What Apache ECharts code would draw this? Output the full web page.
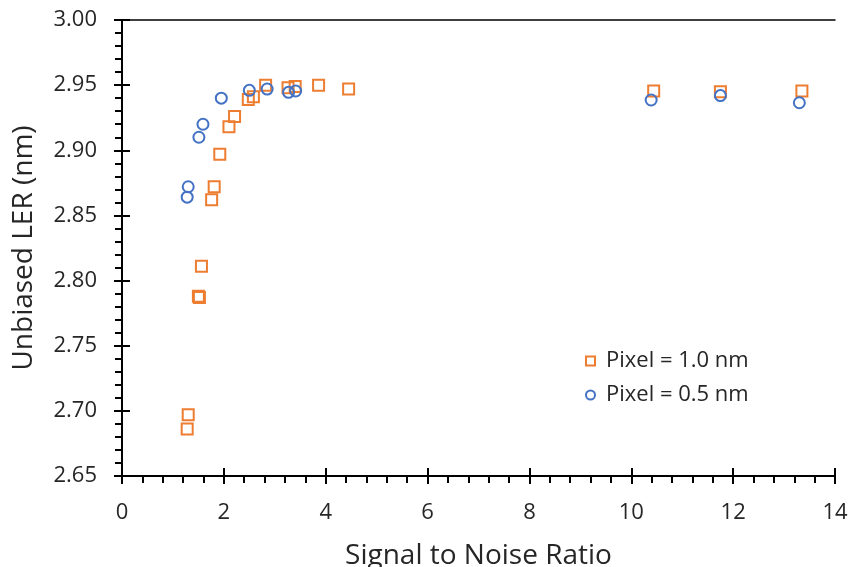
<!DOCTYPE html>
<html>
<head>
<meta charset="utf-8">
<style>
  html, body { margin: 0; padding: 0; background: #fff; }
  #chart { width: 852px; height: 567px; }
</style>
<script src="https://cdn.jsdelivr.net/npm/echarts@6/dist/echarts.min.js"></script>
</head>
<body>
<div id="chart"></div>
<script>
// Pixel = 1.0 nm series
const snrPixel10 = [1.28, 1.30, 1.50, 1.52, 1.56, 1.76, 1.81, 1.92, 2.10, 2.21, 2.48, 2.58, 2.82, 3.26, 3.40, 3.86, 4.45, 10.44, 11.75, 13.35];
const lerPixel10 = [2.686, 2.697, 2.788, 2.787, 2.811, 2.862, 2.872, 2.897, 2.918, 2.926, 2.939, 2.941, 2.950, 2.948, 2.949, 2.950, 2.947, 2.9455, 2.945, 2.9455];

// Pixel = 0.5 nm series
const snrPixel05 = [1.28, 1.30, 1.51, 1.59, 1.95, 2.50, 2.85, 3.27, 3.41, 10.39, 11.75, 13.30];
const lerPixel05 = [2.864, 2.872, 2.910, 2.920, 2.940, 2.946, 2.947, 2.9445, 2.9455, 2.9386, 2.942, 2.9365];

const seriesNames = ['Pixel = 1.0 nm', 'Pixel = 0.5 nm'];
const xAxisTitle = 'Signal to Noise Ratio';
const yAxisTitle = 'Unbiased LER (nm)';

const ORANGE = '#ED7D31';
const BLUE = '#4472C4';
const INK = '#262626';
const FONT = '"Open Sans", "Noto Sans", sans-serif';

const zip = (xs, ys) => xs.map((x, i) => [x, ys[i]]);

const chart = echarts.init(document.getElementById('chart'), null, { renderer: 'canvas' });

const xRange = { min: 0, max: 14, interval: 2 };
const yRange = { min: 2.65, max: 3.00, interval: 0.05 };

// Main axes carry labels, outward ticks and minor ticks; twin axes add the inward half of
// each major tick so they cross the axis line; the frame axes close the box on top/right.
const option = {
  animation: false,
  backgroundColor: '#ffffff',
  grid: { left: 122, right: 17, top: 20, bottom: 91, containLabel: false, outerBoundsMode: 'none' },
  legend: {
    orient: 'vertical',
    left: 580,
    top: 345,
    padding: 5,
    itemWidth: 9,
    itemHeight: 9,
    itemGap: 12,
    textStyle: { fontFamily: FONT, fontSize: 22, color: INK, lineHeight: 22, padding: [0, 0, 0, 6] },
    data: [
      { name: seriesNames[0], icon: 'rect',
        itemStyle: { color: 'rgba(255,255,255,0)', borderColor: ORANGE, borderWidth: 2 } },
      { name: seriesNames[1], icon: 'circle',
        itemStyle: { color: 'rgba(255,255,255,0)', borderColor: BLUE, borderWidth: 2 } }
    ]
  },
  xAxis: [
    {
      type: 'value', position: 'bottom', ...xRange,
      name: xAxisTitle, nameLocation: 'middle', nameGap: 66,
      nameTextStyle: { fontFamily: FONT, fontSize: 28, color: INK },
      axisLine: { show: true, lineStyle: { color: '#000', width: 2 } },
      axisTick: { show: true, inside: false, length: 8, lineStyle: { color: '#000', width: 2 } },
      minorTick: { show: true, splitNumber: 5, length: 7, lineStyle: { color: '#000', width: 2 } },
      axisLabel: { margin: 26, fontFamily: FONT, fontSize: 22, color: INK },
      splitLine: { show: false }, minorSplitLine: { show: false }
    },
    {
      type: 'value', position: 'bottom', ...xRange,
      axisLine: { show: false },
      axisTick: { show: true, inside: true, length: 8, lineStyle: { color: '#000', width: 2 } },
      axisLabel: { show: false }, splitLine: { show: false }
    },
    {
      type: 'value', position: 'top', ...xRange,
      axisLine: { show: true, lineStyle: { color: '#000', width: 1.5 } },
      axisTick: { show: false }, axisLabel: { show: false }, splitLine: { show: false }
    }
  ],
  yAxis: [
    {
      type: 'value', position: 'left', ...yRange,
      name: yAxisTitle, nameLocation: 'middle', nameGap: 84,
      nameTextStyle: { fontFamily: FONT, fontSize: 28, color: INK },
      axisLine: { show: true, lineStyle: { color: '#000', width: 2 } },
      axisTick: { show: true, inside: false, length: 8, lineStyle: { color: '#000', width: 2 } },
      minorTick: { show: true, splitNumber: 5, length: 7, lineStyle: { color: '#000', width: 2 } },
      axisLabel: { margin: 25, fontFamily: FONT, fontSize: 22, color: INK,
        formatter: v => v.toFixed(2) },
      splitLine: { show: false }, minorSplitLine: { show: false }
    },
    {
      type: 'value', position: 'left', ...yRange,
      axisLine: { show: false },
      axisTick: { show: true, inside: true, length: 8, lineStyle: { color: '#000', width: 2 } },
      axisLabel: { show: false }, splitLine: { show: false }
    },
    {
      type: 'value', position: 'right', ...yRange,
      axisLine: { show: true, lineStyle: { color: '#000', width: 2 } },
      axisTick: { show: false }, axisLabel: { show: false }, splitLine: { show: false }
    }
  ],
  series: [
    {
      name: seriesNames[0], type: 'scatter', xAxisIndex: 0, yAxisIndex: 0,
      symbol: 'rect', symbolSize: 11,
      itemStyle: { color: 'rgba(255,255,255,0)', borderColor: ORANGE, borderWidth: 2, opacity: 1 },
      data: zip(snrPixel10, lerPixel10)
    },
    {
      name: seriesNames[1], type: 'scatter', xAxisIndex: 0, yAxisIndex: 0,
      symbol: 'circle', symbolSize: 11,
      itemStyle: { color: 'rgba(255,255,255,0)', borderColor: BLUE, borderWidth: 2, opacity: 1 },
      data: zip(snrPixel05, lerPixel05)
    }
  ]
};

chart.setOption(option);
</script>
</body>
</html>
